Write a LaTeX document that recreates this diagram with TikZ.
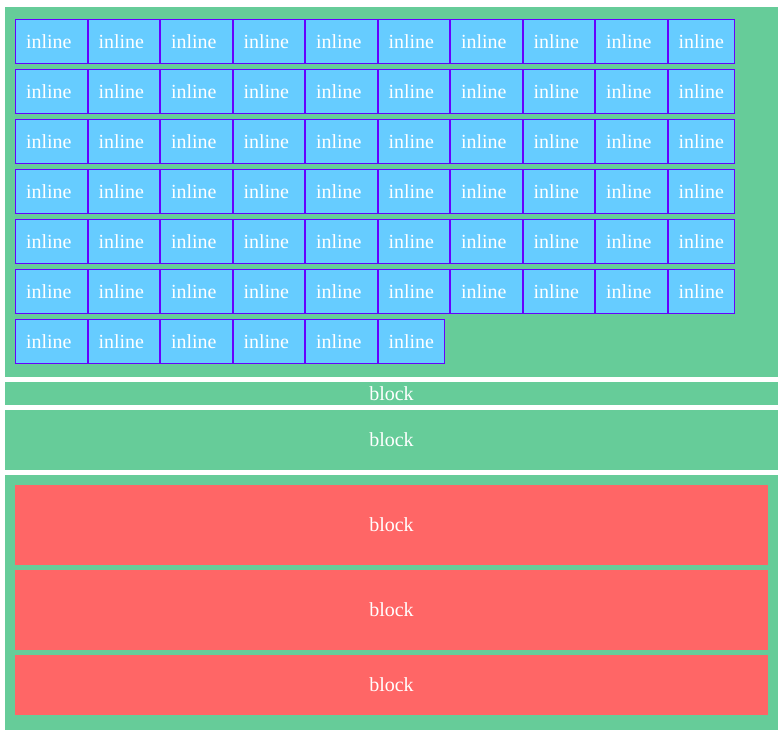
\documentclass[tikz,border=0pt]{standalone}
\usepackage{fontspec}
\setmainfont{Liberation Serif}
\definecolor{grn}{RGB}{102,204,153}
\definecolor{blu}{RGB}{102,204,255}
\definecolor{rd}{RGB}{255,102,102}
\definecolor{pur}{RGB}{102,0,255}
\begin{document}
\begin{tikzpicture}[x=1pt,y=-1pt,
  font=\fontsize{20}{24}\selectfont,
  area/.style={fill=grn, draw=none, inner sep=0pt, outer sep=0pt, anchor=north west},
  redarea/.style={fill=rd, draw=none, inner sep=0pt, outer sep=0pt, anchor=north west},
  ibox/.style={fill=blu, draw=pur, line width=1pt, inner sep=0pt, outer sep=0pt, anchor=north west},
  lbl/.style={text=white, inner sep=0pt, outer sep=0pt}]
\useasboundingbox (0,0) rectangle (784,740);
\fill[white] (0,0) rectangle (784,740);
% green containers
\node[area, minimum width=773pt, minimum height=370pt] (g1) at (5,7) {};
\node[area, minimum width=773pt, minimum height=23pt] (g2) at (5,382) {};
\node[area, minimum width=773pt, minimum height=60pt] (g3) at (5,410) {};
\node[area, minimum width=773pt, minimum height=255pt] (g4) at (5,475) {};
% red blocks
\node[redarea, minimum width=753pt, minimum height=80pt] (r1) at (15,485) {};
\node[redarea, minimum width=753pt, minimum height=80pt] (r2) at (15,570) {};
\node[redarea, minimum width=753pt, minimum height=60pt] (r3) at (15,655) {};
% block labels
\node[lbl, anchor=base] (tg2) at (391.5,400) {block};
\node[lbl, anchor=base] (tg3) at (391.5,446.5) {block};
\node[lbl, anchor=base] (tr1) at (391.5,531.5) {block};
\node[lbl, anchor=base] (tr2) at (391.5,616.5) {block};
\node[lbl, anchor=base] (tr3) at (391.5,691.5) {block};
% inline boxes
\foreach \r in {0,...,6}{
  \pgfmathtruncatemacro{\n}{\r==6 ? 6 : 10}
  \foreach \c in {1,...,\n}{
    \pgfmathsetmacro{\x}{15+72.5*(\c-1)}
    \pgfmathsetmacro{\w}{\c==\n ? 67 : 72.5}
    \pgfmathsetmacro{\wi}{\w-1}
    \pgfmathsetmacro{\y}{19+50*\r}
    \node[ibox, minimum width=\wi pt, minimum height=44pt] (b\r-\c) at (\x+0.5,\y+0.5) {};
    \node[lbl, anchor=base west] (t\r-\c) at (\x+11,\y+29) {inline};
  }
}
\end{tikzpicture}
\end{document}
